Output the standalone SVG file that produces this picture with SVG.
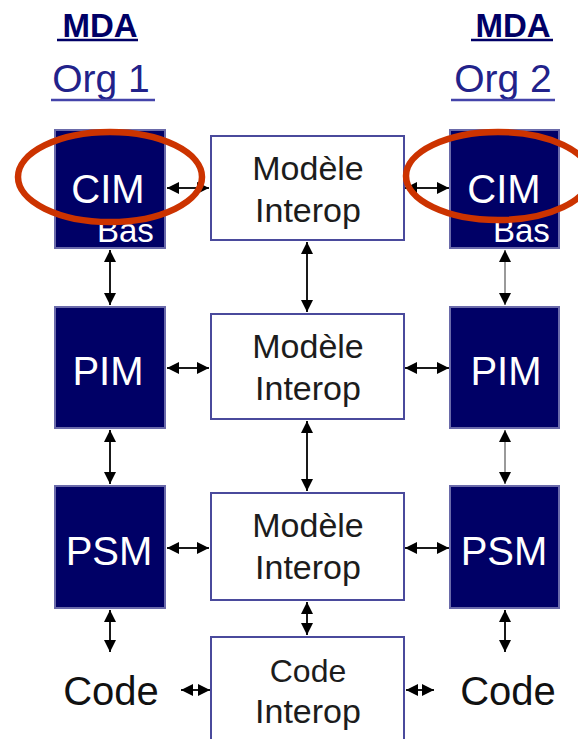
<svg xmlns="http://www.w3.org/2000/svg" width="578" height="739" viewBox="0 0 578 739">
  <style>
    text { font-family: "Liberation Sans", Arial, sans-serif; text-anchor: middle; }
    .dark { fill: #000066; stroke: #6a6aaa; stroke-width: 2; }
    .interop { fill: #ffffff; stroke: #4a4a9c; stroke-width: 2; }
    .dlabel { fill: #ffffff; font-size: 40px; }
    .bas { fill: #ffffff; font-size: 33px; text-anchor: start; }
    .ilabel { fill: #1c1c1c; font-size: 34px; }
    .code { fill: #111111; font-size: 40px; }
    .mda { fill: #000066; font-size: 33px; font-weight: bold; }
    .org { fill: #22228a; font-size: 39px; }
    .uline { stroke-width: 2.5; }
    .conn line { stroke: #1a1a1a; stroke-width: 2; marker-start: url(#head); marker-end: url(#head); }
    .focus { fill: none; stroke: #cc3300; stroke-width: 6.5; }
  </style>
  <defs>
    <marker id="head" viewBox="0 0 10 10" refX="10" refY="5" markerWidth="12" markerHeight="12" markerUnits="userSpaceOnUse" orient="auto-start-reverse">
      <path d="M0,0 L10,5 L0,10 z" fill="#000000"/>
    </marker>
  </defs>

  <!-- column headings -->
  <g id="org1-title">
    <text class="mda" x="100" y="37">MDA</text>
    <line class="uline" x1="57" y1="40" x2="138" y2="40" stroke="#000066"/>
    <text class="org" x="101" y="92">Org 1</text>
    <line class="uline" x1="51" y1="100" x2="155" y2="100" stroke="#4444aa"/>
  </g>
  <g id="org2-title">
    <text class="mda" x="513" y="37">MDA</text>
    <line class="uline" x1="471" y1="40" x2="553" y2="40" stroke="#000066"/>
    <text class="org" x="503" y="92">Org 2</text>
    <line class="uline" x1="451" y1="100" x2="555" y2="100" stroke="#4444aa"/>
  </g>

  <!-- connectors -->
  <g id="connectors" class="conn">
    <!-- left column -->
    <line x1="110" y1="250" x2="110" y2="305"/>
    <line x1="110" y1="430" x2="110" y2="484"/>
    <line x1="110" y1="610" x2="110" y2="652"/>
    <!-- middle column -->
    <line x1="307" y1="242" x2="307" y2="312"/>
    <line x1="307" y1="421" x2="307" y2="491"/>
    <line x1="307" y1="602" x2="307" y2="635"/>
    <!-- right column -->
    <line x1="505" y1="250" x2="505" y2="305" style="stroke:#9a9a9a"/>
    <line x1="505" y1="430" x2="505" y2="484" style="stroke:#9a9a9a"/>
    <line x1="505" y1="610" x2="505" y2="652"/>
    <!-- rows -->
    <line x1="167" y1="188" x2="209" y2="188"/>
    <line x1="405" y1="188" x2="449" y2="188"/>
    <line x1="167" y1="368" x2="209" y2="368"/>
    <line x1="405" y1="368" x2="449" y2="368"/>
    <line x1="167" y1="548" x2="209" y2="548"/>
    <line x1="405" y1="548" x2="449" y2="548"/>
    <line x1="181" y1="690" x2="210" y2="690"/>
    <line x1="406" y1="690" x2="434" y2="690"/>
  </g>

  <!-- Org 1 chain -->
  <g id="cim1">
    <rect class="dark" x="55" y="130" width="110" height="118"/>
    <text class="dlabel" x="108" y="203">CIM</text>
    <text class="bas" x="97" y="242">Bas</text>
  </g>
  <g id="pim1">
    <rect class="dark" x="55" y="307" width="110" height="121"/>
    <text class="dlabel" x="108" y="385">PIM</text>
  </g>
  <g id="psm1">
    <rect class="dark" x="55" y="486" width="110" height="122"/>
    <text class="dlabel" x="109" y="565">PSM</text>
  </g>
  <g id="code1">
    <text class="code" x="111" y="705">Code</text>
  </g>

  <!-- interoperability models -->
  <g id="interop-cim">
    <rect class="interop" x="211" y="136" width="193" height="104"/>
    <text class="ilabel" x="308" y="180">Modèle</text>
    <text class="ilabel" x="308" y="222">Interop</text>
  </g>
  <g id="interop-pim">
    <rect class="interop" x="211" y="314" width="193" height="105"/>
    <text class="ilabel" x="308" y="358">Modèle</text>
    <text class="ilabel" x="308" y="400">Interop</text>
  </g>
  <g id="interop-psm">
    <rect class="interop" x="211" y="493" width="193" height="107"/>
    <text class="ilabel" x="308" y="537">Modèle</text>
    <text class="ilabel" x="308" y="579">Interop</text>
  </g>
  <g id="interop-code">
    <rect class="interop" x="211" y="637" width="193" height="130"/>
    <text class="ilabel" x="308" y="682" style="font-size:32px">Code</text>
    <text class="ilabel" x="308" y="723">Interop</text>
  </g>

  <!-- Org 2 chain -->
  <g id="cim2">
    <rect class="dark" x="450" y="130" width="109" height="118"/>
    <text class="dlabel" x="504" y="203">CIM</text>
    <text class="bas" x="493" y="242">Bas</text>
  </g>
  <g id="pim2">
    <rect class="dark" x="450" y="307" width="109" height="121"/>
    <text class="dlabel" x="506" y="385">PIM</text>
  </g>
  <g id="psm2">
    <rect class="dark" x="450" y="486" width="109" height="122"/>
    <text class="dlabel" x="504" y="565">PSM</text>
  </g>
  <g id="code2">
    <text class="code" x="508" y="705">Code</text>
  </g>

  <!-- highlight rings around the CIM boxes -->
  <g id="cim-highlights">
    <ellipse class="focus" cx="110" cy="177" rx="92" ry="45"/>
    <ellipse class="focus" cx="498" cy="176" rx="92" ry="44"/>
  </g>
</svg>
